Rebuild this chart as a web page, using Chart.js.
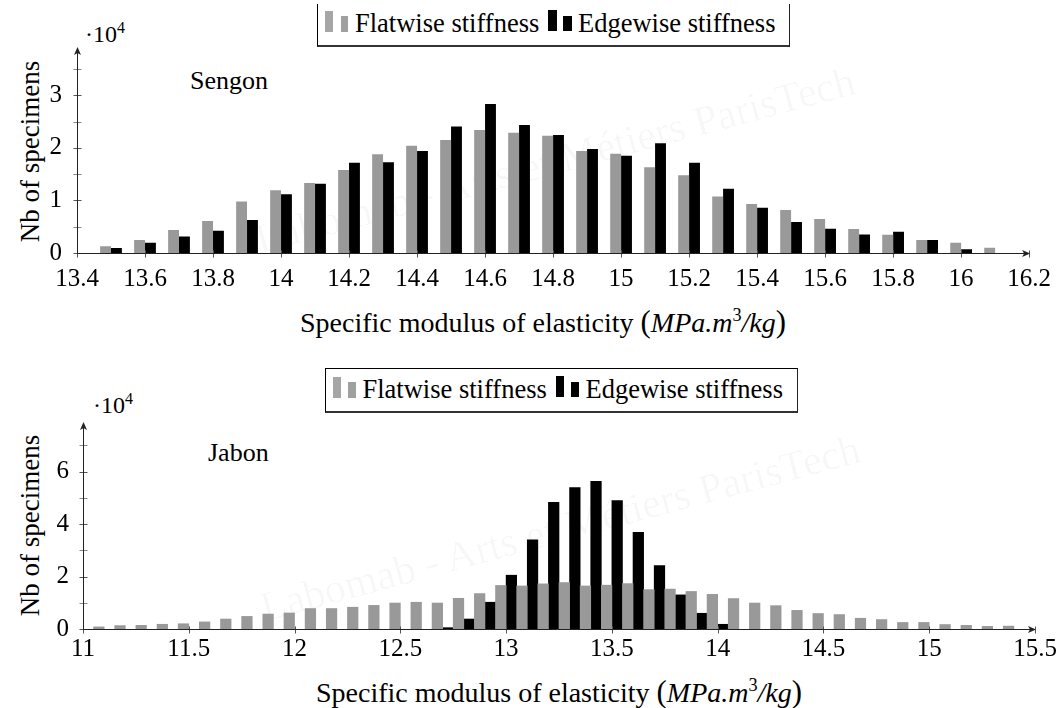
<!DOCTYPE html>
<html><head><meta charset="utf-8">
<script src="https://cdn.jsdelivr.net/npm/chart.js@4.4.1/dist/chart.umd.min.js"></script>
<style>
html,body{margin:0;padding:0;background:#fff;}
#root{position:relative;width:1062px;height:708px;overflow:hidden;font-family:'Liberation Serif','Times New Roman',serif;color:#000;}
.abs{position:absolute;white-space:nowrap;line-height:1;}
canvas{position:absolute;left:0;z-index:1;}
.wm{position:absolute;white-space:nowrap;font-size:42px;line-height:1;color:rgba(0,0,0,0.035);width:800px;text-align:center;z-index:0;transform:rotate(-15deg);}
.ylab{position:absolute;width:300px;height:27px;font-size:27px;line-height:27px;text-align:center;transform:rotate(-90deg);white-space:nowrap;}
.xlab{position:absolute;width:800px;text-align:center;font-size:28px;line-height:1;white-space:nowrap;}
.legbox{position:absolute;border-left:1px solid #000;border-right:1.5px solid #222;border-bottom:2px solid #333;box-sizing:border-box;}
.mk{position:absolute;}
.lt{position:absolute;font-size:26.5px;line-height:1;white-space:nowrap;}
</style></head>
<body><div id="root">
<div class="wm" style="left:155px;top:139px;">Labomab - Arts et Métiers ParisTech</div>
<div class="wm" style="left:160px;top:507px;">Labomab - Arts et Métiers ParisTech</div>

<canvas id="c1" width="1062" height="300" style="top:0px;"></canvas>
<canvas id="c2" width="1062" height="348" style="top:360px;"></canvas>

<!-- top chart texts -->
<div class="abs" style="left:190px;top:68px;font-size:26px;">Sengon</div>
<div class="abs" style="left:85px;top:21.6px;font-size:24px;">·10<sup style="font-size:16px;vertical-align:0.55em;line-height:0;">4</sup></div>
<div class="ylab" style="left:-120px;top:138px;">Nb of specimens</div>
<div class="xlab" style="left:143px;top:306.5px;">Specific modulus of elasticity <span style="font-size:1.1em">(</span><i>MPa.m</i><sup style="font-size:0.65em;vertical-align:0.6em;line-height:0;">3</sup><i>/kg</i><span style="font-size:1.1em">)</span></div>
<div class="legbox" style="left:317px;top:4px;width:473px;height:43px;"></div>
<div class="mk" style="left:325px;top:10.7px;width:8.3px;height:21px;background:#a6a6a6;"></div>
<div class="mk" style="left:340.7px;top:16px;width:7.6px;height:15.7px;background:#a0a0a0;"></div>
<div class="lt" style="left:355px;top:10.1px;">Flatwise stiffness</div>
<div class="mk" style="left:548.3px;top:10px;width:8.4px;height:21px;background:#000;"></div>
<div class="mk" style="left:563.3px;top:16px;width:8.4px;height:15px;background:#000;"></div>
<div class="lt" style="left:578px;top:10.1px;">Edgewise stiffness</div>

<!-- bottom chart texts -->
<div class="abs" style="left:208px;top:440px;font-size:26px;">Jabon</div>
<div class="abs" style="left:93px;top:393px;font-size:24px;">·10<sup style="font-size:16px;vertical-align:0.55em;line-height:0;">4</sup></div>
<div class="ylab" style="left:-120px;top:511.5px;">Nb of specimens</div>
<div class="xlab" style="left:159px;top:676.5px;">Specific modulus of elasticity <span style="font-size:1.1em">(</span><i>MPa.m</i><sup style="font-size:0.65em;vertical-align:0.6em;line-height:0;">3</sup><i>/kg</i><span style="font-size:1.1em">)</span></div>
<div class="legbox" style="left:324.5px;top:368px;width:473px;height:45px;border-top:1px solid #000;"></div>
<div class="mk" style="left:332.5px;top:376.7px;width:8.3px;height:21px;background:#a6a6a6;"></div>
<div class="mk" style="left:348.2px;top:382px;width:7.6px;height:15.7px;background:#a0a0a0;"></div>
<div class="lt" style="left:362.5px;top:376.1px;">Flatwise stiffness</div>
<div class="mk" style="left:555.8px;top:376px;width:8.4px;height:21px;background:#000;"></div>
<div class="mk" style="left:570.8px;top:382px;width:8.4px;height:15px;background:#000;"></div>
<div class="lt" style="left:585.5px;top:376.1px;">Edgewise stiffness</div>
</div>

<script>
// ---------- DATA (values in units of 10^4 specimens) ----------
const seriesLabels = ['Flatwise stiffness', 'Edgewise stiffness'];

// Sengon
const sengonX = [13.5,13.6,13.7,13.8,13.9,14.0,14.1,14.2,14.3,14.4,14.5,14.6,14.7,14.8,14.9,15.0,15.1,15.2,15.3,15.4,15.5,15.6,15.7,15.8,15.9,16.0,16.1];
const sengonFlatwise = [0.127,0.247,0.437,0.608,0.98,1.196,1.33,1.58,1.88,2.04,2.15,2.34,2.29,2.23,1.94,1.89,1.63,1.48,1.076,0.93,0.82,0.646,0.456,0.348,0.247,0.196,0.10];
const sengonEdgewise = [0.095,0.196,0.316,0.424,0.627,1.12,1.316,1.715,1.728,1.94,2.405,2.835,2.437,2.247,1.98,1.85,2.09,1.715,1.22,0.86,0.59,0.46,0.354,0.405,0.247,0.07,null];
const sengonXTicks = [13.4,13.6,13.8,14,14.2,14.4,14.6,14.8,15,15.2,15.4,15.6,15.8,16,16.2];
const sengonYTicks = [0,1,2,3];

// Jabon
const jabonX = [11.1,11.2,11.3,11.4,11.5,11.6,11.7,11.8,11.9,12.0,12.1,12.2,12.3,12.4,12.5,12.6,12.7,12.8,12.9,13.0,13.1,13.2,13.3,13.4,13.5,13.6,13.7,13.8,13.9,14.0,14.1,14.2,14.3,14.4,14.5,14.6,14.7,14.8,14.9,15.0,15.1,15.2,15.3,15.4];
const jabonFlatwise = [0.08,0.13,0.14,0.18,0.20,0.27,0.38,0.48,0.57,0.61,0.78,0.78,0.83,0.90,0.99,1.02,0.99,1.17,1.35,1.66,1.64,1.72,1.77,1.64,1.67,1.73,1.50,1.52,1.43,1.32,1.16,0.99,0.89,0.71,0.59,0.55,0.41,0.36,0.25,0.25,0.17,0.14,0.10,0.11];
const jabonEdgewise = [null,null,null,null,null,null,null,null,null,null,null,null,null,null,null,null,0.05,0.38,1.02,2.05,3.40,4.83,5.39,5.63,4.89,3.68,2.42,1.30,0.60,0.18,null,null,null,null,null,null,null,null,null,null,null,null,null,null];
const jabonXTicks = [11,11.5,12,12.5,13,13.5,14,14.5,15,15.5];
const jabonYTicks = [0,2,4,6];

// ---------- pgfplots-like axes plugin ----------
const pgfAxes = {
  id: 'pgfAxes',
  afterDatasetsDraw(chart, args, opts) {
    const {ctx, chartArea: a, scales: {x, y}} = chart;
    const L = Math.round(a.left) + 0.5, B = Math.round(a.bottom) + 0.5;
    const R = a.right, T = a.top;
    ctx.save();
    ctx.lineWidth = 1;
    ctx.strokeStyle = '#555';
    x.ticks.forEach(t => {
      const px = Math.round(x.getPixelForValue(t.value)) + 0.5;
      ctx.beginPath(); ctx.moveTo(px, B - 3); ctx.lineTo(px, B + 4); ctx.stroke();
    });
    for (let v = 0; v <= y.max + 1e-9; v += opts.yMinor) {
      const py = Math.round(y.getPixelForValue(v)) + 0.5;
      ctx.strokeStyle = Math.abs(v / (2 * opts.yMinor) - Math.round(v / (2 * opts.yMinor))) < 1e-6 ? '#555' : '#888';
      ctx.beginPath(); ctx.moveTo(L - 4, py); ctx.lineTo(L + 4, py); ctx.stroke();
    }
    ctx.strokeStyle = '#222';
    ctx.beginPath(); ctx.moveTo(L, B); ctx.lineTo(R - 3, B); ctx.stroke();
    ctx.beginPath(); ctx.moveTo(L, B); ctx.lineTo(L, T + 3); ctx.stroke();
    ctx.fillStyle = '#222';
    ctx.beginPath();
    ctx.moveTo(R + 1, B); ctx.lineTo(R - 7, B - 3.5); ctx.lineTo(R - 5, B); ctx.lineTo(R - 7, B + 3.5); ctx.closePath(); ctx.fill();
    ctx.beginPath();
    ctx.moveTo(L, T - 1); ctx.lineTo(L - 3.5, T + 7); ctx.lineTo(L, T + 5); ctx.lineTo(L + 3.5, T + 7); ctx.closePath(); ctx.fill();
    ctx.restore();
  }
};

const tickFont = {family: "'Liberation Serif', 'Times New Roman', serif", size: 25};

function makeChart(id, xs, flat, edge, xTicks, yTicks, yMax, yMinor, g) {
  const pts = arr => xs.map((x, i) => ({x: x, y: arr[i]})).filter(p => p.y !== null);
  return new Chart(document.getElementById(id), {
    type: 'bar',
    data: {
      datasets: [
        {label: seriesLabels[0], data: pts(flat), backgroundColor: '#999999', borderWidth: 0,
         categoryPercentage: g.cat, barPercentage: g.bar},
        {label: seriesLabels[1], data: pts(edge), backgroundColor: '#000000', borderWidth: 0,
         categoryPercentage: g.cat, barPercentage: g.bar}
      ]
    },
    options: {
      responsive: false, animation: false, devicePixelRatio: 1,
      layout: {padding: g.padding},
      plugins: {legend: {display: false}, tooltip: {enabled: false}, pgfAxes: {yMinor: yMinor}},
      scales: {
        x: {
          type: 'linear', min: xTicks[0], max: xTicks[xTicks.length - 1], offset: false,
          grid: {display: false, drawTicks: false, offset: false}, border: {display: false},
          afterBuildTicks: s => { s.ticks = xTicks.map(v => ({value: v})); },
          afterFit: s => { s.height = g.xH; },
          ticks: {autoSkip: false, maxRotation: 0, minRotation: 0, padding: g.xPad, color: '#000', font: tickFont,
                  callback: v => String(v)}
        },
        y: {
          type: 'linear', min: 0, max: yMax,
          grid: {display: false, drawTicks: false}, border: {display: false},
          afterBuildTicks: s => { s.ticks = yTicks.map(v => ({value: v})); },
          afterFit: s => { s.width = g.yW; },
          ticks: {padding: g.yPad, color: '#000', font: tickFont, callback: v => String(v)}
        }
      }
    },
    plugins: [pgfAxes]
  });
}

makeChart('c1', sengonX, sengonFlatwise, sengonEdgewise, sengonXTicks, sengonYTicks, 3.9, 0.5,
  {cat: 0.64, bar: 1.0, padding: {left: 0, right: 32, top: 48, bottom: 7}, xH: 40, yW: 77, xPad: 11, yPad: 15});
makeChart('c2', jabonX, jabonFlatwise, jabonEdgewise, jabonXTicks, jabonYTicks, 7.85, 1, 
  {cat: 1.0, bar: 1.0, padding: {left: 0, right: 27, top: 63, bottom: 39}, xH: 40, yW: 83, xPad: 5, yPad: 14});
</script>
</body></html>
